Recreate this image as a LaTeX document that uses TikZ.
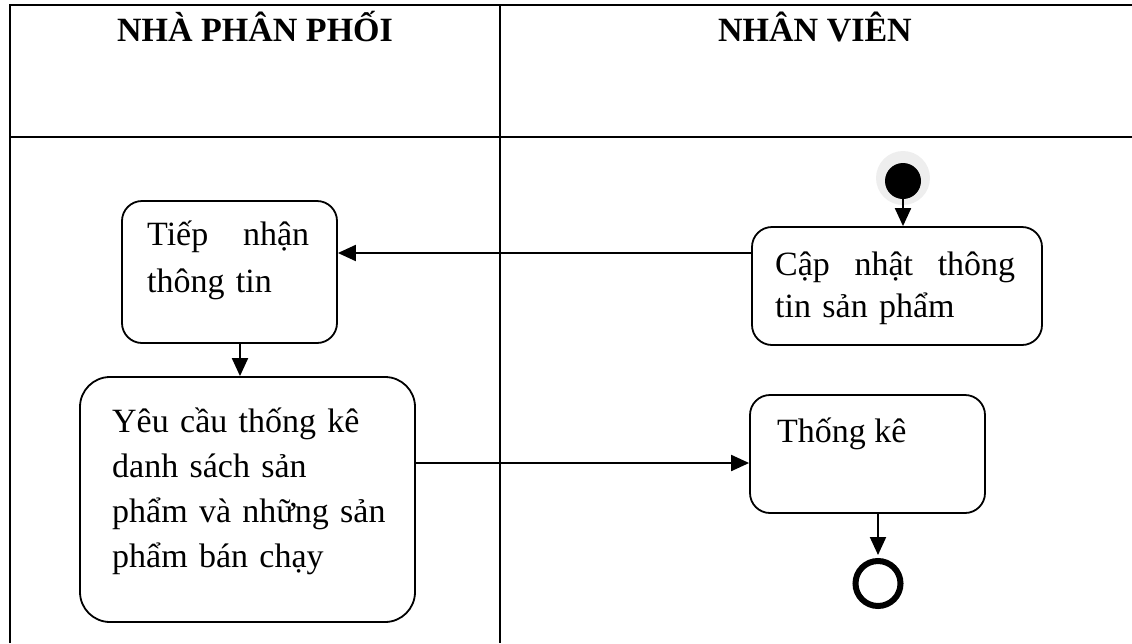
\documentclass[tikz,border=0pt]{standalone}
\usepackage{fontspec}
\setmainfont{Liberation Serif}
\usetikzlibrary{arrows.meta}
\tikzset{
  tableline/.style={line width=2.6pt},
  actbox/.style={draw, line width=1.8pt, rounded corners=20pt, inner sep=0pt},
  txt/.style={inner sep=0pt, anchor=base west, align=left, font=\fontsize{34}{45}\selectfont},
  head/.style={inner sep=0pt, anchor=base, font=\fontsize{34}{40}\selectfont\bfseries},
  arr/.style={line width=2pt, -{Triangle[length=18pt,width=16pt]}}
}
\begin{document}
\begin{tikzpicture}[x=1pt,y=-1pt]
\useasboundingbox (0,0) rectangle (1132,643);
% table
\draw[tableline] (10,643) -- (10,5) -- (1132,5);
\draw[tableline] (10,137) -- (1132,137);
\draw[tableline] (500,5) -- (500,643);
\node[head] (h1) at (255,41) {NHÀ PHÂN PHỐI};
\node[head] (h2) at (815,41) {NHÂN VIÊN};
% boxes
\node[actbox, minimum width=215pt, minimum height=142pt] (b1) at (229.5,272) {};
\node[actbox, rounded corners=30pt, minimum width=335pt, minimum height=245pt] (b2) at (247.5,499.5) {};
\node[actbox, minimum width=290pt, minimum height=118pt] (b3) at (897,286) {};
\node[actbox, minimum width=235pt, minimum height=118pt] (b4) at (867.5,454) {};
% texts
\node[txt, text width=162pt, font=\fontsize{34}{47}\selectfont] (t1) at (147,245) {Tiếp\hfill nhận\\thông tin};
\node[txt, text width=300pt, font=\fontsize{34}{45.3}\selectfont] (t2) at (112,432) {Yêu cầu thống kê\\danh sách sản\\phẩm và những sản\\phẩm bán chạy};
\node[txt, text width=240pt, font=\fontsize{34}{42}\selectfont] (t3) at (775,275) {Cập\hfill nhật\hfill thông\\tin sản phẩm};
\node[txt] (t4) at (777,442) {Thống kê};
% start / end
\fill[gray!13] (903,178) circle (27pt);
\node[circle, fill=black, minimum size=36pt, inner sep=0pt] (start) at (903,181) {};
\node[circle, draw=black, line width=6pt, minimum size=45pt, inner sep=0pt] (end) at (878,583.5) {};
% connectors
\draw[arr] (start.south) -- (start.south |- b3.north);
\draw[arr] ([yshift=33pt]b3.west) -- ([yshift=33pt]b3.west -| b1.east);
\draw[arr] ([xshift=10.5pt]b1.south) -- ([xshift=10.5pt]b1.south |- b2.north);
\draw[arr] ([yshift=36.5pt]b2.east) -- ([yshift=36.5pt]b2.east -| b4.west);
\draw[arr] (end.north |- b4.south) -- ([yshift=3pt]end.north);
\end{tikzpicture}
\end{document}
